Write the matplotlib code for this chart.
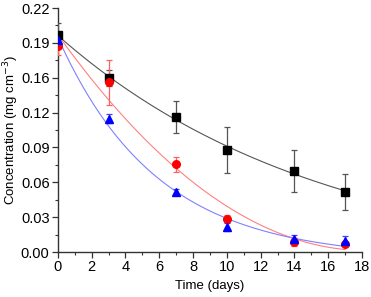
import matplotlib
matplotlib.use("Agg")
from matplotlib import pyplot as plt
import numpy as np

plt.rcParams["font.family"] = ["Liberation Sans", "DejaVu Sans"]

# sampling days
t = [0, 3, 7, 10, 14, 17]

# concentrations (mg cm-3)
black_y = [0.1957, 0.157, 0.1217, 0.092, 0.073, 0.054]
black_err = [0.011, 0.007, 0.0145, 0.021, 0.019, 0.016]

red_y = [0.186, 0.153, 0.079, 0.030, 0.009, 0.007]
red_err = [0.008, 0.020, 0.007, 0.003, 0.004, 0.002]

blue_y = [0.191, 0.120, 0.054, 0.0225, 0.0117, 0.010]
blue_err = [0.004, 0.004, 0.003, 0.004, 0.004, 0.004]

ytick_labels = ["0.00", "0.03", "0.06", "0.09", "0.12", "0.16", "0.19", "0.22"]


def exp_fit(x, y):
    # y = c + A*exp(-k x), k by grid search, A and c by least squares
    x = np.asarray(x, float)
    y = np.asarray(y, float)
    best = None
    for k in np.linspace(0.01, 1.0, 500):
        M = np.column_stack([np.exp(-k * x), np.ones_like(x)])
        coef, *_ = np.linalg.lstsq(M, y, rcond=None)
        r = np.sum((M @ coef - y) ** 2)
        if best is None or r < best[0]:
            best = (r, k, coef)
    _, k, (a, c) = best
    xx = np.linspace(x.min(), x.max(), 200)
    return xx, c + a * np.exp(-k * xx)


def poly_fit(x, y):
    p = np.polyfit(x, y, 2)
    xx = np.linspace(min(x), max(x), 200)
    return xx, np.polyval(p, xx)


fig = plt.figure(figsize=(3.71, 2.97), dpi=100)
ax = fig.add_axes([0.156, 0.1515, 0.82, 0.8215])

series = [
    (black_y, black_err, "s", "black", "#555555", "#555555", exp_fit),
    (red_y, red_err, "o", "red", "#ff8080", "#ff6060", poly_fit),
    (blue_y, blue_err, "^", "blue", "#8080ff", "#4040ff", exp_fit),
]

for y, e, m, c, lc, ec, fit in series:
    xx, yy = fit(t, y)
    ax.plot(xx, yy, color=lc, lw=0.8, zorder=2)
    ax.errorbar(t, y, yerr=e, fmt=m, color=c, ms=5.5, mec=c,
                ecolor=ec, elinewidth=0.9, capsize=2.2, capthick=0.9, zorder=3)

ax.set_xlim(0, 18)
ax.set_ylim(0, 0.22)
ax.set_xticks(np.arange(0, 19, 2))
ax.set_xticks(np.arange(1, 18, 2), minor=True)
yt = np.linspace(0, 0.22, 8)
ax.set_yticks(yt)
ax.set_yticklabels(ytick_labels)
ax.set_yticks((yt[:-1] + yt[1:]) / 2, minor=True)

for s in ["top", "right"]:
    ax.spines[s].set_visible(False)
for s in ["left", "bottom"]:
    ax.spines[s].set_color("#333333")
    ax.spines[s].set_linewidth(1.0)

ax.tick_params(which="major", direction="out", length=4, width=0.9,
               labelsize=10.5, colors="#333333", labelcolor="black", pad=2)
ax.tick_params(which="minor", direction="out", length=2.5, width=0.8,
               colors="#333333")

ax.set_xlabel("Time (days)", fontsize=9.5, labelpad=4)
ax.set_ylabel("Concentration (mg cm$^{-3}$)", fontsize=9.5)
ax.yaxis.set_label_coords(-0.122, 0.5)

fig.savefig("out.png", dpi=100)
